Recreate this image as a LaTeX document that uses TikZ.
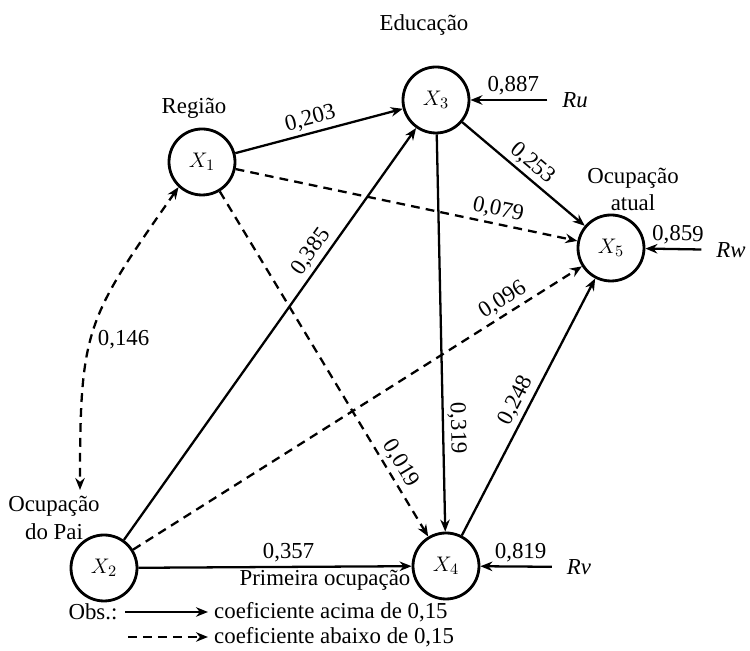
\documentclass[tikz,border=0pt]{standalone}
\usepackage{fontspec}
\setmainfont{Liberation Serif}
\usepackage{tikz}
\usetikzlibrary{positioning, arrows.meta}

\newcommand{\rotfont}{\fontsize{13}{15.5}\selectfont}

\begin{document}
\begin{tikzpicture}[
    var/.style={circle, draw, line width=1.6pt, minimum size=1.32cm, inner sep=0pt, font=\rotfont},
    seta/.style={line width=1.3pt, -{Stealth[length=2.4mm, width=1.9mm]}},
    tracejada/.style={seta, dash pattern=on 5pt off 3.5pt},
    coef/.style={font=\rotfont, sloped, above, inner sep=2pt},
    rotulo/.style={font=\rotfont, align=center},
    >=Stealth
]
    \useasboundingbox (0,0) rectangle (15,13.02);

    % Variables
    \node[var] (X1) at (4.04, 9.78) {$X_1$};
    \node[var] (X3) at (8.72, 11.02) {$X_3$};
    \node[var] (X5) at (12.22, 8.06) {$X_5$};
    \node[var] (X4) at (8.92, 1.70) {$X_4$};
    \node[var] (X2) at (2.08, 1.66) {$X_2$};

    % Variable names
    \node[rotulo] (educ) at (8.48, 12.52) {Educação};
    \node[rotulo] (regiao) at (3.88, 10.86) {Região};
    \node[rotulo] (atual) at (12.66, 9.23) {Ocupação\\atual};
    \node[rotulo] (pai) at (1.08, 2.66) {Ocupação\\do Pai};
    \node[rotulo] (primeira) at (6.5, 1.42) {Primeira ocupação};
    \coordinate (paitopo) at (1.6, 3.22);

    % Residuals
    \node[rotulo, font=\rotfont\itshape] (Ru) at (11.5, 11.02) {Ru};
    \node[rotulo, font=\rotfont\itshape] (Rw) at (14.62, 8.02) {Rw};
    \node[rotulo, font=\rotfont\itshape] (Rv) at (11.58, 1.68) {Rv};
    \draw[seta, shorten <=5pt] (Ru) -- node[coef] {0,887} (X3);
    \draw[seta, shorten <=5pt] (Rw) -- node[coef] {0,859} (X5);
    \draw[seta, shorten <=5pt] (Rv) -- node[coef] {0,819} (X4);

    % Paths
    \draw[seta] (X1) -- node[coef, pos=0.47] {0,203} (X3);
    \draw[tracejada] (X1) -- node[coef, pos=0.76] {0,079} (X5);
    \draw[tracejada] (X1) -- node[coef, pos=0.81] {0,019} (X4);
    \draw[seta] (X2) -- node[coef, pos=0.68] {0,385} (X3);
    \draw[tracejada] (X2) -- node[coef, pos=0.84] {0,096} (X5);
    \draw[seta] (X2) -- node[coef, pos=0.55] {0,357} (X4);
    \draw[seta] (X3) -- node[coef, pos=0.74] {0,319} (X4);
    \draw[seta] (X3) -- node[coef, pos=0.5] {0,253} (X5);
    \draw[seta] (X4) -- node[coef, pos=0.5] {0,248} (X5);

    % Correlation X1 -- X2
    \draw[tracejada, {Stealth[length=2.4mm, width=1.9mm]}-{Stealth[length=2.4mm, width=1.9mm]}]
        (X1.227) to[out=235, in=90, looseness=1.3] node[pos=0.55, right, font=\rotfont] {0,146} (paitopo);

    % Legend
    \node[rotulo] (obs) at (1.86, 0.78) {Obs.:};
    \coordinate (sol) at (2.5, 0.78);
    \coordinate (tra) at (2.56, 0.28);
    \node[rotulo, anchor=west] (acima) at (4.16, 0.78) {coeficiente acima de 0,15};
    \node[rotulo, anchor=west] (abaixo) at (4.16, 0.28) {coeficiente abaixo de 0,15};
    \draw[seta] (sol) -- (acima.west);
    \draw[tracejada] (tra) -- (abaixo.west);
\end{tikzpicture}
\end{document}
